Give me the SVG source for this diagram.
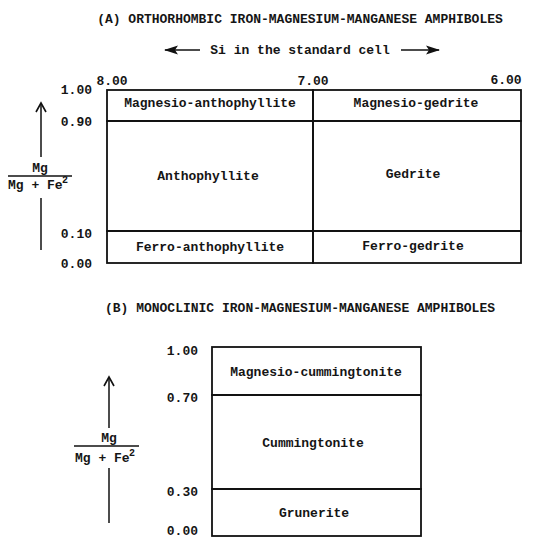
<svg xmlns="http://www.w3.org/2000/svg" width="535" height="539" viewBox="0 0 535 539">
<style>
text{font-family:"Liberation Mono","DejaVu Sans Mono",monospace;font-size:13px;font-weight:bold;fill:#151515;}
.c{text-anchor:middle;}
.e{text-anchor:end;}
.sup{font-size:10px;}
.box{fill:none;stroke:#111;stroke-width:1.8;}
.ln{stroke:#111;stroke-width:1.6;fill:none;}
.ax{stroke:#111;stroke-width:1.5;fill:none;}
</style>
<defs>
<marker id="open" viewBox="0 0 12 12" refX="10" refY="6" markerWidth="12" markerHeight="12" markerUnits="userSpaceOnUse" orient="auto">
<path d="M1,1 L10,6 L1,11" fill="none" stroke="#111" stroke-width="1.6"/>
</marker>
<marker id="solid" viewBox="0 0 14 10" refX="13" refY="5" markerWidth="14" markerHeight="10" markerUnits="userSpaceOnUse" orient="auto-start-reverse">
<path d="M0,0.5 L14,5 L0,9.5 L3,5 Z" fill="#111"/>
</marker>
</defs>

<text x="300" y="23" class="c">(A) ORTHORHOMBIC IRON-MAGNESIUM-MANGANESE AMPHIBOLES</text>
<text x="300" y="54" class="c">Si in the standard cell</text>
<text x="112" y="85" class="c">8.00</text>
<text x="313" y="85" class="c">7.00</text>
<text x="506" y="84" class="c">6.00</text>
<text x="92" y="94" class="e">1.00</text>
<text x="92" y="126" class="e">0.90</text>
<text x="92" y="238" class="e">0.10</text>
<text x="92" y="268" class="e">0.00</text>

<g id="axisA">
<text x="40" y="172" class="c">Mg</text>
<line x1="8" y1="176" x2="72" y2="176" class="ln" stroke-width="1.2"/>
<text x="8" y="189">Mg + Fe</text>
<text x="62" y="183" class="sup">2</text>
</g>

<g id="nodesA">
<g id="magnesio-anthophyllite"><rect x="107" y="90" width="206" height="31" class="box"/><text x="210" y="107" class="c">Magnesio-anthophyllite</text></g>
<g id="magnesio-gedrite"><rect x="313" y="90" width="208" height="31" class="box"/><text x="416" y="107" class="c">Magnesio-gedrite</text></g>
<g id="anthophyllite"><rect x="107" y="121" width="206" height="110" class="box"/><text x="208" y="180" class="c">Anthophyllite</text></g>
<g id="gedrite"><rect x="313" y="121" width="208" height="110" class="box"/><text x="413" y="178" class="c">Gedrite</text></g>
<g id="ferro-anthophyllite"><rect x="107" y="231" width="206" height="32" class="box"/><text x="210" y="251" class="c">Ferro-anthophyllite</text></g>
<g id="ferro-gedrite"><rect x="313" y="231" width="208" height="32" class="box"/><text x="413" y="250" class="c">Ferro-gedrite</text></g>
</g>

<text x="300" y="312" class="c">(B) MONOCLINIC IRON-MAGNESIUM-MANGANESE AMPHIBOLES</text>
<text x="198" y="355" class="e">1.00</text>
<text x="198" y="402" class="e">0.70</text>
<text x="198" y="496" class="e">0.30</text>
<text x="198" y="535" class="e">0.00</text>

<g id="axisB">
<text x="109" y="442" class="c">Mg</text>
<line x1="74" y1="446" x2="139" y2="446" class="ln" stroke-width="1.2"/>
<text x="75" y="462">Mg + Fe</text>
<text x="129" y="456" class="sup">2</text>
</g>

<g id="nodesB">
<g id="magnesio-cummingtonite"><rect x="212" y="347" width="209" height="48" class="box"/><text x="316" y="376" class="c">Magnesio-cummingtonite</text></g>
<g id="cummingtonite"><rect x="212" y="395" width="209" height="94" class="box"/><text x="313" y="447" class="c">Cummingtonite</text></g>
<g id="grunerite"><rect x="212" y="489" width="209" height="47" class="box"/><text x="314" y="517" class="c">Grunerite</text></g>
</g>

<g id="connectors">
<line x1="200" y1="50" x2="165" y2="50" class="ax" stroke-width="1.8" marker-end="url(#solid)"/>
<line x1="401" y1="50" x2="439" y2="50" class="ax" stroke-width="1.8" marker-end="url(#solid)"/>
<line x1="41" y1="157" x2="41" y2="103" class="ax" stroke-width="2" marker-end="url(#open)"/>
<line x1="41" y1="198" x2="41" y2="250" class="ax" stroke-width="2"/>
<line x1="109" y1="428" x2="109" y2="377" class="ax" marker-end="url(#open)"/>
<line x1="109" y1="468" x2="109" y2="523" class="ax"/>
</g>
</svg>
